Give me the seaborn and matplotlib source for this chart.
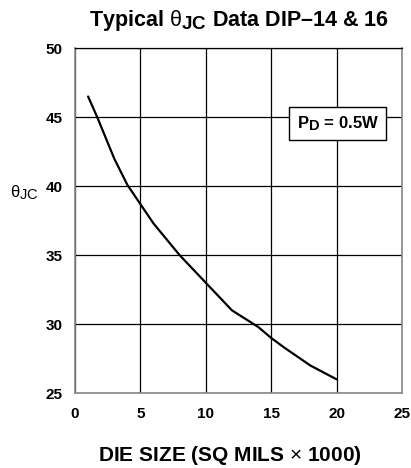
import matplotlib
matplotlib.use("Agg")
import matplotlib.pyplot as plt
import matplotlib._mathtext as mathtext_impl
import seaborn as sns
import pandas as pd

# === 資料 ===
die_size = [1, 1.7, 3, 4, 5, 6, 8, 10, 12, 14, 15, 16, 18, 20]
theta_jc = [46.5, 45.0, 42.0, 40.1, 38.7, 37.3, 35.0, 33.0, 31.0, 29.8, 29.0, 28.3, 27.0, 26.0]
x_ticks = [0, 5, 10, 15, 20, 25]
y_ticks = [25, 30, 35, 40, 45, 50]

df = pd.DataFrame({'die_size': die_size, 'theta_jc': theta_jc})

# 下標字放大一點（原圖下標幾乎與正文同高）
mathtext_impl.SHRINK_FACTOR = 0.88

sns.set_theme(style='white')
plt.rcParams['font.family'] = ['Liberation Sans', 'DejaVu Sans']
plt.rcParams['mathtext.fontset'] = 'custom'
plt.rcParams['mathtext.rm'] = 'Liberation Sans'
plt.rcParams['mathtext.bf'] = 'Liberation Sans:bold'
plt.rcParams['mathtext.it'] = 'Liberation Sans:italic'
# 文字全部用純黑
for key in ['text.color', 'axes.labelcolor', 'xtick.color', 'ytick.color']:
    plt.rcParams[key] = 'black'

fig = plt.figure(figsize=(4.11, 4.68), dpi=100)
ax = fig.add_axes([0.1825, 0.160, 0.7955, 0.737])

sns.lineplot(data=df, x='die_size', y='theta_jc', color='black', linewidth=1.6, ax=ax)

ax.set_xlim(0, 25)
ax.set_ylim(25, 50)
ax.set_xticks(x_ticks)
ax.set_yticks(y_ticks)
ax.set_xticklabels([str(t) for t in x_ticks], fontweight='bold', fontsize=11)
ax.set_yticklabels([str(t) for t in y_ticks], fontweight='bold', fontsize=11)
ax.tick_params(axis='y', length=0, pad=9)
ax.tick_params(axis='x', length=0, pad=10)
ax.grid(True, color='black', linewidth=0.9)
for side in ['left', 'right', 'bottom']:
    ax.spines[side].set_color('#888888')
    ax.spines[side].set_linewidth(1.2)
ax.spines['top'].set_color('black')
ax.spines['top'].set_linewidth(0.9)

ax.set_title(r'Typical $\mathrm{θ}_{\mathbf{JC}}$ Data DIP–14 & 16',
             fontsize=15.5, fontweight='bold', pad=16)
ax.set_xlabel(r'DIE SIZE (SQ MILS $\times$ 1000)', fontsize=15, fontweight='bold')
ax.xaxis.set_label_coords(0.475, -0.147)
ax.set_ylabel(r'$\mathrm{θ}_{\mathrm{JC}}$', fontsize=12, rotation=0, va='center')
ax.yaxis.set_label_coords(-0.155, 0.582)

ax.text(20.1, 44.55, r'P$_{\mathbf{D}}$ = 0.5W', fontsize=12, fontweight='bold',
        ha='center', va='center',
        bbox=dict(boxstyle='square,pad=0.45', facecolor='white', edgecolor='black', linewidth=1))

fig.savefig('out.png', dpi=100)
